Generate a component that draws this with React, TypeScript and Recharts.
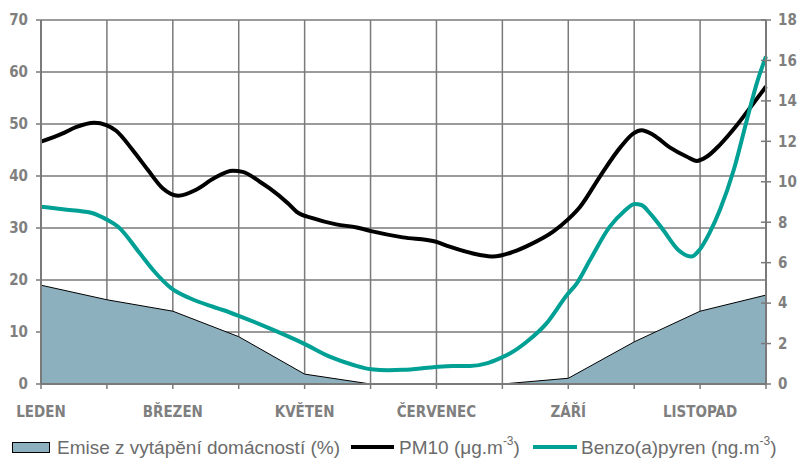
import React from 'react';
import { ComposedChart, Area, Line, XAxis, YAxis, CartesianGrid } from 'recharts';

// Months (0 = leden ... 11 = prosinec)
const months = [0, 1, 2, 3, 4, 5, 6, 7, 8, 9, 10, 11];
const xTickLabels = ['LEDEN', '', 'BŘEZEN', '', 'KVĚTEN', '', 'ČERVENEC', '', 'ZÁŘÍ', '', 'LISTOPAD', ''];

// Emise z vytápění domácností (%) – monthly
const emise = [19, 16.2, 14, 9.1, 1.9, 0, 0, 0, 1.1, 8.1, 14, 17.1];

// PM10 (µg.m-3) – sampled along the year (position in months)
const pm10Month = [0, 0.33, 0.53, 0.81, 0.99, 1.14, 1.39, 1.62, 1.85, 2.08, 2.36, 2.63, 2.91, 3.06, 3.32, 3.47, 3.75, 3.88, 4.12, 4.48, 4.79, 5.01, 5.49, 5.98, 6.2, 6.66, 6.86, 7.16, 7.42, 7.77, 8.0, 8.18, 8.48, 8.79, 8.99, 9.11, 9.29, 9.54, 9.8, 9.95, 10.1, 10.3, 10.56, 10.81, 11];
const pm10Value = [46.6, 48.2, 49.4, 50.25, 49.8, 48.7, 45, 41.2, 37.6, 36.2, 37.4, 39.6, 41.0, 40.8, 38.9, 37.6, 34.7, 33.1, 31.9, 30.7, 30.1, 29.4, 28.2, 27.4, 26.4, 24.8, 24.5, 25.4, 26.8, 29.3, 31.7, 34.1, 39.9, 45.5, 48.2, 48.8, 47.9, 45.5, 43.7, 42.9, 43.7, 46.0, 49.8, 54.0, 57.2];

// Benzo(a)pyren (ng.m-3)
const benzoMonth = [0, 0.33, 0.76, 1.01, 1.17, 1.5, 1.7, 1.98, 2.26, 2.61, 2.76, 3.01, 3.47, 3.98, 4.38, 4.74, 5.01, 5.27, 5.5, 5.95, 6.25, 6.51, 6.76, 6.96, 7.12, 7.37, 7.67, 7.98, 8.13, 8.33, 8.63, 8.84, 9.01, 9.11, 9.24, 9.44, 9.67, 9.87, 9.99, 10.14, 10.3, 10.51, 10.71, 10.86, 11];
const benzoValue = [8.77, 8.64, 8.47, 8.11, 7.78, 6.46, 5.64, 4.73, 4.24, 3.82, 3.66, 3.36, 2.75, 2.01, 1.35, 0.94, 0.73, 0.68, 0.7, 0.83, 0.89, 0.89, 1.02, 1.27, 1.52, 2.09, 3.0, 4.4, 4.98, 6.13, 7.78, 8.52, 8.9, 8.85, 8.44, 7.62, 6.63, 6.3, 6.63, 7.45, 8.6, 10.58, 13.06, 14.87, 16.2];

const leftTicks = [0, 10, 20, 30, 40, 50, 60, 70];
const rightTicks = [0, 2, 4, 6, 8, 10, 12, 14, 16, 18];

const emiseData = months.map((m, i) => ({ m, v: emise[i] }));
const pm10Data = pm10Month.map((m, i) => ({ m, v: pm10Value[i] }));
const benzoData = benzoMonth.map((m, i) => ({ m, v: benzoValue[i] }));

const GRID = '#7a7a7a';
const TICK_TEXT = '#7f7f7f';
const AREA_FILL = '#8db0bf';
const TEAL = '#00a095';
const axisFont = { fontFamily: '"DejaVu Sans Condensed", "DejaVu Sans", sans-serif', fontWeight: 'bold' as const, fontSize: 15, fill: TICK_TEXT };

const RightTick = (props: any) => {
  const { x, y, payload } = props;
  const ax = x - 12;
  return (
    <g>
      <line x1={ax - 5} x2={ax + 5} y1={y} y2={y} stroke={GRID} strokeWidth={1.5} />
      <text x={x} y={y} dy="0.355em" textAnchor="start" {...axisFont}>{payload.value}</text>
    </g>
  );
};

const legendFont: React.CSSProperties = {
  fontFamily: '"Liberation Sans", Arial, sans-serif',
  fontSize: 19,
  color: '#6b6b6b',
  whiteSpace: 'nowrap',
};

const LegendBox = () => (
  <div style={{ position: 'absolute', left: 0, top: 437, width: 797, height: 22, ...legendFont }}>
    <div style={{ position: 'absolute', left: 12, top: 5, width: 36, height: 9, background: AREA_FILL, border: '1.5px solid #000' }} />
    <span style={{ position: 'absolute', left: 57, top: 0 }}>Emise z vytápění domácností (%)</span>
    <div style={{ position: 'absolute', left: 351, top: 8, width: 43, height: 4, background: '#000' }} />
    <span style={{ position: 'absolute', left: 399, top: 0 }}>PM10 (μg.m<sup style={{ fontSize: 12, verticalAlign: 'top', position: 'relative', top: -3 }}>-3</sup>)</span>
    <div style={{ position: 'absolute', left: 533, top: 8, width: 44, height: 4, background: TEAL }} />
    <span style={{ position: 'absolute', left: 581, top: 0 }}>Benzo(a)pyren (ng.m<sup style={{ fontSize: 12, verticalAlign: 'top', position: 'relative', top: -3 }}>-3</sup>)</span>
  </div>
);

export default function App() {
  return (
    <div style={{ position: 'absolute', left: 0, top: 0, width: 797, height: 459, background: '#fff', overflow: 'hidden' }}>
      <ComposedChart width={797} height={459} margin={{ top: 20, right: 0, bottom: 35, left: 0 }}>
        <CartesianGrid stroke={GRID} strokeWidth={1.5} yAxisId="left" />
        <XAxis
          dataKey="m"
          type="number"
          domain={[0, 11]}
          ticks={months}
          allowDuplicatedCategory={false}
          height={40}
          tickFormatter={(v: number) => xTickLabels[v] ?? ''}
          interval={0}
          axisLine={{ stroke: GRID, strokeWidth: 2 }}
          tickLine={{ stroke: GRID, strokeWidth: 1.5 }}
          tickSize={5}
          tickMargin={17}
          tick={axisFont}
        />
        <YAxis
          yAxisId="left"
          orientation="left"
          width={41}
          domain={[0, 70]}
          ticks={leftTicks}
          interval={0}
          axisLine={{ stroke: GRID, strokeWidth: 2 }}
          tickLine={{ stroke: GRID, strokeWidth: 1.5 }}
          tickSize={5}
          tickMargin={8}
          tick={axisFont}
        />
        <YAxis
          yAxisId="right"
          orientation="right"
          width={31}
          domain={[0, 18]}
          ticks={rightTicks}
          interval={0}
          axisLine={{ stroke: GRID, strokeWidth: 2 }}
          tickLine={false}
          tickSize={6}
          tickMargin={6}
          tick={<RightTick />}
        />
        <Area
          yAxisId="left"
          data={emiseData}
          dataKey="v"
          type="linear"
          fill={AREA_FILL}
          fillOpacity={1}
          stroke="#000"
          strokeWidth={1}
          isAnimationActive={false}
          dot={false}
          activeDot={false}
        />
        <Line
          yAxisId="left"
          data={pm10Data}
          dataKey="v"
          type="monotone"
          stroke="#000"
          strokeWidth={4}
          dot={false}
          activeDot={false}
          isAnimationActive={false}
        />
        <Line
          yAxisId="right"
          data={benzoData}
          dataKey="v"
          type="monotone"
          stroke={TEAL}
          strokeWidth={4}
          dot={false}
          activeDot={false}
          isAnimationActive={false}
        />
      </ComposedChart>
      <LegendBox />
    </div>
  );
}
